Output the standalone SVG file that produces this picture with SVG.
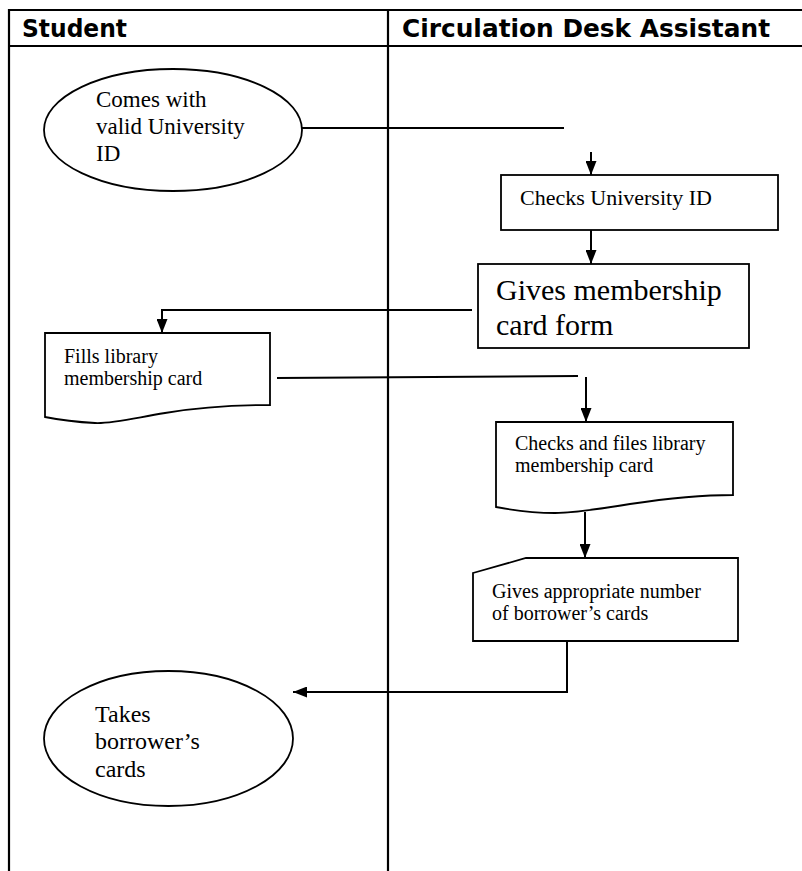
<svg xmlns="http://www.w3.org/2000/svg" width="802" height="871" viewBox="0 0 802 871">
  <style>
    .frame { stroke: #000; stroke-width: 2.2; fill: none; }
    .shape { stroke: #000; stroke-width: 1.8; fill: #fff; }
    .wire { stroke: #000; stroke-width: 2; fill: none; }
    .head { font-family: "DejaVu Sans", "Liberation Sans", sans-serif; font-weight: bold; font-size: 25px; fill: #000; }
    .lbl { font-family: "Liberation Serif", "Times New Roman", serif; fill: #000; }
  </style>
  <defs>
    <marker id="ah" viewBox="0 0 14 11" refX="14" refY="5.5" markerWidth="14" markerHeight="11" markerUnits="userSpaceOnUse" orient="auto">
      <path d="M0,0 L14,5.5 L0,11 Z" fill="#000"/>
    </marker>
  </defs>

  <rect width="802" height="871" fill="#fff"/>

  <!-- swimlane table -->
  <g id="lanes">
    <line class="frame" x1="8" y1="10" x2="802" y2="10"/>
    <line class="frame" x1="8" y1="46" x2="802" y2="46"/>
    <line class="frame" x1="9" y1="9" x2="9" y2="871"/>
    <line class="frame" x1="388" y1="9" x2="388" y2="871"/>
    <text class="head" x="22" y="37" textLength="105" lengthAdjust="spacingAndGlyphs">Student</text>
    <text class="head" x="402" y="37" textLength="368" lengthAdjust="spacingAndGlyphs">Circulation Desk Assistant</text>
  </g>

  <!-- connectors -->
  <g id="connectors">
    <line class="wire" x1="292" y1="128" x2="564" y2="128"/>
    <line class="wire" x1="591" y1="152" x2="591" y2="175" marker-end="url(#ah)"/>
    <line class="wire" x1="591" y1="218" x2="591" y2="264" marker-end="url(#ah)"/>
    <polyline class="wire" points="472,310 162,310 162,333" marker-end="url(#ah)"/>
    <line class="wire" x1="277" y1="378" x2="578" y2="376"/>
    <line class="wire" x1="586" y1="377" x2="586" y2="422" marker-end="url(#ah)"/>
    <line class="wire" x1="585" y1="512" x2="585" y2="558" marker-end="url(#ah)"/>
    <polyline class="wire" points="567,641 567,692 293,692" marker-end="url(#ah)"/>
  </g>

  <g id="comes-with-id">
    <ellipse class="shape" cx="173" cy="130" rx="129" ry="61"/>
    <text class="lbl" font-size="23"><tspan x="96" y="107">Comes with</tspan><tspan x="96" y="134">valid University</tspan><tspan x="96" y="161">ID</tspan></text>
  </g>

  <g id="checks-id">
    <rect class="shape" x="501" y="175" width="277" height="55"/>
    <text class="lbl" font-size="22" x="520" y="205">Checks University ID</text>
  </g>

  <g id="gives-form">
    <rect class="shape" x="478" y="264" width="271" height="84"/>
    <text class="lbl" font-size="30"><tspan x="496" y="300">Gives membership</tspan><tspan x="496" y="335">card form</tspan></text>
  </g>

  <g id="fills-card">
    <path class="shape" d="M45,333 H270 V405 C235,405 200,407 165,413 C130,419 110,424 95,423 C75,422 60,420 45,417 Z"/>
    <text class="lbl" font-size="20"><tspan x="64" y="363">Fills library</tspan><tspan x="64" y="385">membership card</tspan></text>
  </g>

  <g id="files-card">
    <path class="shape" d="M496,422 H733 V495 C700,495 670,498 630,504 C600,509 575,513 555,513 C530,513 512,510 496,507 Z"/>
    <text class="lbl" font-size="20"><tspan x="515" y="450">Checks and files library</tspan><tspan x="515" y="472">membership card</tspan></text>
  </g>

  <g id="gives-cards">
    <path class="shape" d="M473,573 L526,558 H738 V641 H473 Z"/>
    <text class="lbl" font-size="20"><tspan x="492" y="598">Gives appropriate number</tspan><tspan x="492" y="620">of borrower’s cards</tspan></text>
  </g>

  <g id="takes-cards">
    <ellipse class="shape" cx="168.5" cy="738.5" rx="124.5" ry="67.5"/>
    <text class="lbl" font-size="24"><tspan x="95" y="722">Takes</tspan><tspan x="95" y="749">borrower’s</tspan><tspan x="95" y="777">cards</tspan></text>
  </g>
</svg>
